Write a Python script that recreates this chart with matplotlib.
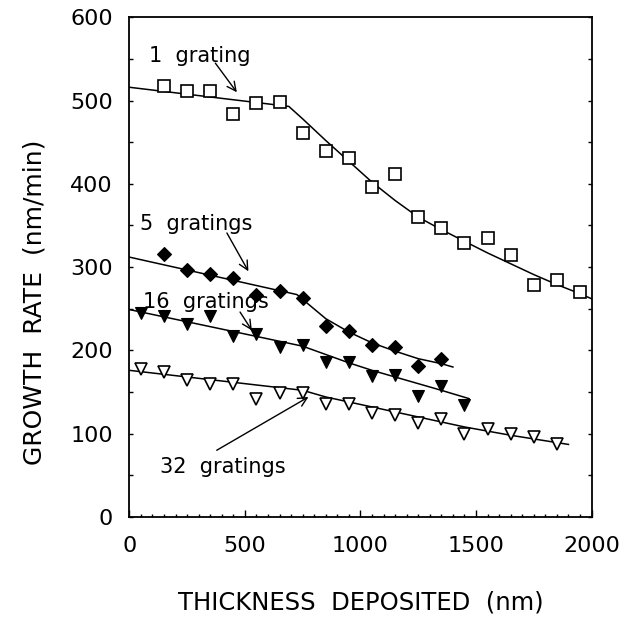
import numpy as np
import matplotlib
matplotlib.use("Agg")
import matplotlib.pyplot as plt
from matplotlib.ticker import MultipleLocator

plt.rcParams["font.family"] = ["DejaVu Sans"]

# measured growth rates (nm/min) vs thickness deposited (nm)
thick_1 = [150, 250, 350, 450, 550, 650, 750, 850, 950, 1050,
           1150, 1250, 1350, 1450, 1550, 1650, 1750, 1850, 1950]
rate_1 = [518, 511, 511, 484, 497, 498, 461, 440, 431, 396,
          412, 360, 347, 329, 335, 314, 278, 285, 270]

thick_5 = [150, 250, 350, 450, 550, 650, 750, 850, 950, 1050, 1150, 1250, 1350]
rate_5 = [316, 297, 292, 287, 267, 271, 263, 229, 223, 206, 204, 181, 190]

thick_16 = [50, 150, 250, 350, 450, 550, 650, 750, 850, 950,
            1050, 1150, 1250, 1350, 1450]
rate_16 = [245, 241, 232, 241, 217, 220, 204, 206, 186, 186,
           169, 170, 145, 157, 134]

thick_32 = [50, 150, 250, 350, 450, 550, 650, 750, 850, 950,
            1050, 1150, 1250, 1350, 1450, 1550, 1650, 1750, 1850]
rate_32 = [178, 174, 164, 160, 160, 142, 149, 149, 136, 136,
           125, 122, 113, 117, 99, 105, 99, 96, 88]

# hand-fitted trend curves
fit_1_x = [0, 690, 750, 850, 950, 1050, 1150, 1250, 1350, 1450,
           1550, 1650, 1750, 1850, 1950, 2000]
fit_1_y = [516, 493, 478, 452, 427, 402, 380, 360, 345, 331,
           317, 304, 291, 279, 268, 262]

fit_5_x = [0, 725, 850, 950, 1050, 1150, 1250, 1350, 1400]
fit_5_y = [312, 267, 238, 222, 209, 199, 190, 184, 180]

fit_16_x = [0, 750, 850, 950, 1050, 1150, 1250, 1350, 1470]
fit_16_y = [249, 205, 195, 185, 176, 168, 160, 152, 142]

fit_32_x = [0, 750, 850, 950, 1100, 1250, 1450, 1650, 1900]
fit_32_y = [176, 152, 144, 138, 129, 120, 108, 98, 87]

labels = ["1  grating", "5  gratings", "16  gratings", "32  gratings"]
label_xy = [(87, 553), (47, 352), (58, 258), (133, 60)]
arrow_from = [(372, 545), (422, 341), (479, 246), (378, 80)]
arrow_to = [(465, 510), (515, 295), (530, 224), (775, 144)]

fig = plt.figure(figsize=(6.28, 6.19), dpi=100)
ax = fig.add_axes([0.206, 0.165, 0.736, 0.807])

ax.plot(fit_1_x, fit_1_y, color="black", lw=1.1)
ax.plot(fit_5_x, fit_5_y, color="black", lw=1.1)
ax.plot(fit_16_x, fit_16_y, color="black", lw=1.1)
ax.plot(fit_32_x, fit_32_y, color="black", lw=1.1)

ax.plot(thick_1, rate_1, ls="none", marker="s", ms=8.5, mfc="white",
        mec="black", mew=1.2)
ax.plot(thick_5, rate_5, ls="none", marker="D", ms=7.2, mfc="black",
        mec="black", mew=0.8)
ax.plot(thick_16, rate_16, ls="none", marker="v", ms=8.6, mfc="black",
        mec="black", mew=0.8)
ax.plot(thick_32, rate_32, ls="none", marker="v", ms=8.6, mfc="white",
        mec="black", mew=1.2)

for txt, xy, a0, a1 in zip(labels, label_xy, arrow_from, arrow_to):
    ax.text(xy[0], xy[1], txt, fontsize=15, ha="left", va="center")
    ax.annotate("", xy=a1, xytext=a0,
                arrowprops=dict(arrowstyle="->", color="black", lw=1.0,
                                mutation_scale=16, shrinkA=0, shrinkB=0))

ax.set_xlim(0, 2000)
ax.set_ylim(0, 600)
ax.xaxis.set_major_locator(MultipleLocator(500))
ax.xaxis.set_minor_locator(MultipleLocator(50))
ax.yaxis.set_major_locator(MultipleLocator(100))
ax.yaxis.set_minor_locator(MultipleLocator(50))

ax.tick_params(which="both", direction="in", top=False, right=True,
               labelsize=16, width=1.0)
ax.tick_params(axis="x", which="major", length=5, pad=14)
ax.tick_params(axis="x", which="minor", length=2.5)
ax.tick_params(axis="y", which="both", length=3, pad=12)

for side in ax.spines.values():
    side.set_linewidth(1.3)

ax.set_xlabel("THICKNESS  DEPOSITED  (nm)", fontsize=17.5)
ax.set_ylabel("GROWTH  RATE  (nm/min)", fontsize=18)
ax.xaxis.set_label_coords(0.5, -0.148)
ax.yaxis.set_label_coords(-0.18, 0.43)

plt.savefig("out.png", dpi=100)
plt.close()
